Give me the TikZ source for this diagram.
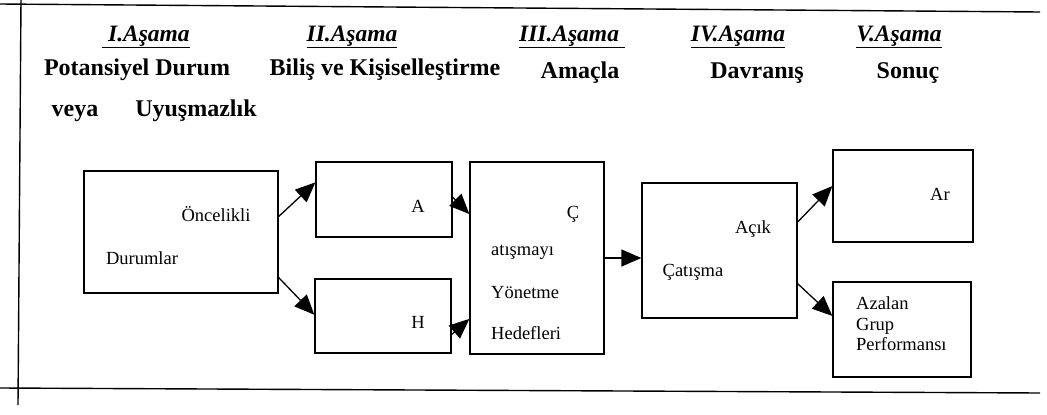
\documentclass[tikz,border=0pt]{standalone}
\usepackage{fontspec}
\setmainfont{Liberation Serif}
\usetikzlibrary{arrows.meta}

\begin{document}
\begin{tikzpicture}[x=1pt, y=-1pt,
        box/.style={draw, line width=1.3pt, inner sep=0pt},
        head/.style={font=\fontsize{23.5}{27}\selectfont\bfseries\itshape, anchor=base},
        sub/.style={font=\fontsize{24}{28}\selectfont\bfseries, anchor=base},
        lbl/.style={font=\fontsize{18.5}{20}\selectfont, inner sep=0pt, anchor=base},
        arr/.style={line width=1.3pt, -{Triangle[length=20pt, width=17pt]}}]
        \useasboundingbox (0, 0) rectangle (1047, 415);
        % frame
        \draw[line width=1.4pt] (0, 4) -- (1040, 12);
        \draw[line width=1.4pt] (0, 388) -- (1040, 393);
        \draw[line width=1.4pt] (21, 0) -- (18, 405);
        % stages
        \node[head] (s1) at (146, 41) {\underline{\ I.Aşama}};
        \node[head] (s2) at (352, 41) {\underline{II.Aşama}};
        \node[head] (s3) at (572, 41) {\underline{III.Aşama\ }};
        \node[head] (s4) at (738, 41) {\underline{IV.Aşama}};
        \node[head] (s5) at (899, 41) {\underline{V.Aşama}};
        \node[sub] (t1) at (137, 75) {Potansiyel Durum};
        \node[sub] (t2) at (385, 75) {Biliş ve Kişiselleştirme};
        \node[sub] (t3) at (580, 78) {Amaçla};
        \node[sub] (t4) at (757, 78) {Davranış};
        \node[sub] (t5) at (908, 78) {Sonuç};
        \node[sub] (t6) at (75, 116) {veya};
        \node[sub] (t7) at (196, 116) {Uyuşmazlık};
        % boxes
        \node[box, minimum width=194pt, minimum height=122pt] (b1) at (181, 232) {};
        \node[box, minimum width=136pt, minimum height=75pt] (b2) at (384, 199.5) {};
        \node[box, minimum width=136pt, minimum height=74pt] (b3) at (383, 316) {};
        \node[box, minimum width=134pt, minimum height=192pt] (b4) at (537, 258) {};
        \node[box, minimum width=155pt, minimum height=135pt] (b5) at (719.5, 250.5) {};
        \node[box, minimum width=140pt, minimum height=92pt] (b6) at (903, 196) {};
        \node[box, minimum width=138pt, minimum height=95pt] (b7) at (902, 329.5) {};
        % box texts
        \node[lbl] (l1) at (216, 221) {Öncelikli};
        \node[lbl] (l2) at (142, 264) {Durumlar};
        \node[lbl] (l3) at (418, 212) {A};
        \node[lbl] (l4) at (418, 328) {H};
        \node[lbl] (l5) at (573, 218) {Ç};
        \node[lbl, anchor=base west] (l6) at (491, 255) {atışmayı};
        \node[lbl, anchor=base west] (l7) at (491, 298) {Yönetme};
        \node[lbl, anchor=base west] (l8) at (491, 339) {Hedefleri};
        \node[lbl] (l9) at (753, 233) {Açık};
        \node[lbl] (l10) at (693, 276) {Çatışma};
        \node[lbl] (l11) at (940, 200) {Ar};
        \node[lbl, anchor=base west] (l12) at (856, 309) {Azalan};
        \node[lbl, anchor=base west] (l13) at (856, 330) {Grup};
        \node[lbl, anchor=base west] (l14) at (856, 350) {Performansı};
        % arrows
        \draw[arr] (b1.9) -- (b2.166);
        \draw[arr] (b1.-25) -- (b3.179);
        \draw[arr] (b2.2) -- (b4.147);
        \draw[arr] (b3.-15) -- (b4.222);
        \draw[arr] (b4.east) -- (b5.west |- b4.east);
        \draw[arr] (b5.20) -- (b6.172);
        \draw[arr] (b5.-23) -- (b7.169);
\end{tikzpicture}
\end{document}
